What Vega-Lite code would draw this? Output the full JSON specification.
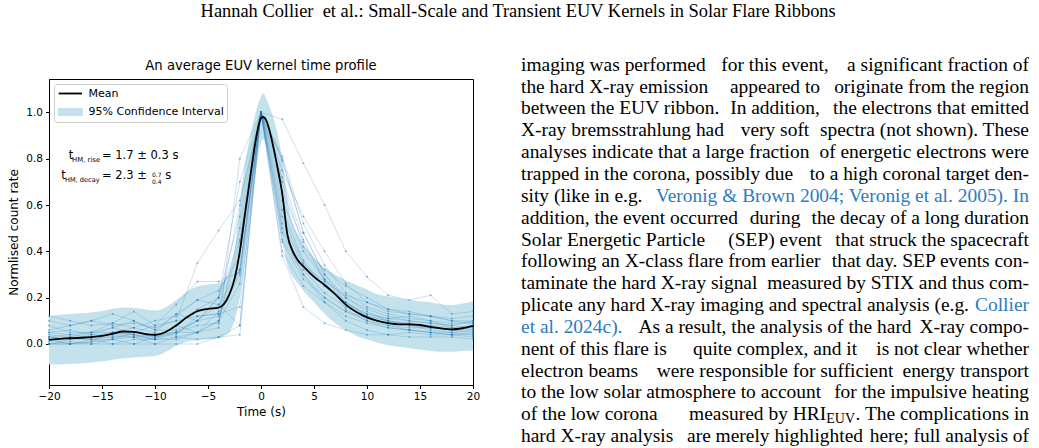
{
  "$schema": "https://vega.github.io/schema/vega-lite/v6.json",
  "background": "white",
  "padding": {"left": 7, "top": 2, "right": 5, "bottom": 0},
  "title": {
    "text": "Hannah Collier\u00a0 et al.: Small-Scale and Transient EUV Kernels in Solar Flare Ribbons",
    "font": "Liberation Serif",
    "fontSize": 18.4,
    "fontWeight": "normal",
    "color": "black",
    "anchor": "middle",
    "offset": 34
  },
  "config": {
    "view": {"stroke": null},
    "axis": {
      "domainColor": "black",
      "domainWidth": 1,
      "tickColor": "black",
      "tickSize": 3.5,
      "tickWidth": 1,
      "labelFont": "DejaVu Sans",
      "labelFontSize": 10.5,
      "labelColor": "black",
      "labelPadding": 3,
      "labelFlush": false,
      "titleFont": "DejaVu Sans",
      "titleFontSize": 12,
      "titleFontWeight": "normal",
      "titleColor": "black",
      "grid": false
    },
    "axisX": {"titlePadding": 4},
    "axisY": {"titlePadding": 5}
  },
  "datasets": {
    "profile": [
      {"t": -20, "mean": 0.018, "lo": -0.088, "hi": 0.122},
      {"t": -19, "mean": 0.022, "lo": -0.088, "hi": 0.126},
      {"t": -18, "mean": 0.025, "lo": -0.086, "hi": 0.130},
      {"t": -17, "mean": 0.027, "lo": -0.084, "hi": 0.133},
      {"t": -16, "mean": 0.030, "lo": -0.080, "hi": 0.136},
      {"t": -15, "mean": 0.035, "lo": -0.076, "hi": 0.142},
      {"t": -14, "mean": 0.045, "lo": -0.068, "hi": 0.152},
      {"t": -13, "mean": 0.054, "lo": -0.062, "hi": 0.158},
      {"t": -12, "mean": 0.052, "lo": -0.058, "hi": 0.157},
      {"t": -11, "mean": 0.044, "lo": -0.055, "hi": 0.150},
      {"t": -10, "mean": 0.040, "lo": -0.052, "hi": 0.145},
      {"t": -9, "mean": 0.052, "lo": -0.035, "hi": 0.158},
      {"t": -8, "mean": 0.080, "lo": -0.008, "hi": 0.190},
      {"t": -7, "mean": 0.115, "lo": 0.010, "hi": 0.225},
      {"t": -6, "mean": 0.142, "lo": 0.016, "hi": 0.248},
      {"t": -5, "mean": 0.152, "lo": 0.020, "hi": 0.257},
      {"t": -4, "mean": 0.157, "lo": 0.025, "hi": 0.262},
      {"t": -3.5, "mean": 0.172, "lo": 0.035, "hi": 0.275},
      {"t": -3, "mean": 0.212, "lo": 0.050, "hi": 0.310},
      {"t": -2.5, "mean": 0.280, "lo": 0.100, "hi": 0.400},
      {"t": -2, "mean": 0.400, "lo": 0.200, "hi": 0.600},
      {"t": -1.5, "mean": 0.565, "lo": 0.360, "hi": 0.780},
      {"t": -1, "mean": 0.725, "lo": 0.550, "hi": 0.900},
      {"t": -0.5, "mean": 0.880, "lo": 0.740, "hi": 1.000},
      {"t": 0, "mean": 0.975, "lo": 0.870, "hi": 1.070},
      {"t": 0.2, "mean": 0.980, "lo": 0.885, "hi": 1.083},
      {"t": 0.5, "mean": 0.965, "lo": 0.860, "hi": 1.060},
      {"t": 1, "mean": 0.885, "lo": 0.740, "hi": 1.000},
      {"t": 1.5, "mean": 0.775, "lo": 0.600, "hi": 0.920},
      {"t": 2, "mean": 0.650, "lo": 0.450, "hi": 0.800},
      {"t": 2.5, "mean": 0.470, "lo": 0.340, "hi": 0.620},
      {"t": 3, "mean": 0.400, "lo": 0.290, "hi": 0.520},
      {"t": 3.5, "mean": 0.360, "lo": 0.260, "hi": 0.470},
      {"t": 4, "mean": 0.335, "lo": 0.230, "hi": 0.430},
      {"t": 5, "mean": 0.290, "lo": 0.180, "hi": 0.370},
      {"t": 6, "mean": 0.255, "lo": 0.130, "hi": 0.330},
      {"t": 7, "mean": 0.215, "lo": 0.090, "hi": 0.300},
      {"t": 8, "mean": 0.170, "lo": 0.060, "hi": 0.275},
      {"t": 9, "mean": 0.138, "lo": 0.035, "hi": 0.255},
      {"t": 10, "mean": 0.115, "lo": 0.020, "hi": 0.235},
      {"t": 11, "mean": 0.100, "lo": 0.005, "hi": 0.215},
      {"t": 12, "mean": 0.090, "lo": -0.005, "hi": 0.205},
      {"t": 13, "mean": 0.085, "lo": -0.012, "hi": 0.198},
      {"t": 14, "mean": 0.085, "lo": -0.018, "hi": 0.190},
      {"t": 15, "mean": 0.082, "lo": -0.024, "hi": 0.185},
      {"t": 16, "mean": 0.074, "lo": -0.030, "hi": 0.180},
      {"t": 17, "mean": 0.067, "lo": -0.033, "hi": 0.172},
      {"t": 18, "mean": 0.063, "lo": -0.033, "hi": 0.168},
      {"t": 19, "mean": 0.068, "lo": -0.030, "hi": 0.175},
      {"t": 20, "mean": 0.078, "lo": -0.028, "hi": 0.185}
    ],
    "kernels": [
      {"kernel": "K01", "t": [-20,-18,-16,-14,-12,-10,-8,-6,-4,-2,0,2,4,6,8,10,12,14,16,18,20], "rate": [0.02,0.00,0.01,0.02,0.00,0.03,0.05,0.10,0.12,0.30,1.00,0.55,0.35,0.25,0.18,0.12,0.10,0.08,0.07,0.06,0.05]},
      {"kernel": "K02", "t": [-20,-18,-16,-14,-12,-10,-8,-6,-4,-2,0,2,4,6,8,10,12,14,16,18,20], "rate": [0.05,0.04,0.03,0.05,0.04,0.02,0.08,0.15,0.20,0.55,1.00,0.80,0.48,0.30,0.20,0.15,0.12,0.10,0.09,0.08,0.10]},
      {"kernel": "K03", "t": [-20,-18,-16,-14,-12,-10,-8,-6,-4,-2,0,2,4,6,8,10,12,14,16,18,20], "rate": [0.00,0.00,0.00,0.00,0.00,0.00,0.00,0.00,0.03,0.08,1.00,0.40,0.25,0.18,0.10,0.06,0.04,0.03,0.03,0.03,0.02]},
      {"kernel": "K04", "t": [-20,-18,-16,-14,-12,-10,-8,-6,-4,-2,0,2,4,6,8,10,12,14,16,18,20], "rate": [0.10,0.08,0.10,0.13,0.10,0.06,0.13,0.19,0.17,0.32,1.00,0.70,0.42,0.32,0.25,0.20,0.15,0.14,0.12,0.11,0.12]},
      {"kernel": "K05", "t": [-20,-18,-16,-14,-12,-10,-8,-6,-4,-2,0,2,4,6,8,10,12,14,16,18,20], "rate": [0.03,0.02,0.03,0.04,0.05,0.04,0.05,0.10,0.20,0.45,1.00,0.97,0.78,0.60,0.40,0.29,0.21,0.19,0.21,0.13,0.14]},
      {"kernel": "K06", "t": [-20,-18,-16,-14,-12,-10,-8,-6,-4,-2,0,2,4,6,8,10,12,14,16,18,20], "rate": [0.06,0.08,0.10,0.08,0.09,0.07,0.10,0.35,0.49,0.62,1.00,0.50,0.32,0.22,0.16,0.12,0.10,0.09,0.08,0.07,0.08]},
      {"kernel": "K07", "t": [-20,-18,-16,-14,-12,-10,-8,-6,-4,-2,0,2,4,6,8,10,12,14,16,18,20], "rate": [0.04,0.03,0.05,0.09,0.14,0.08,0.17,0.27,0.27,0.31,1.00,0.45,0.30,0.20,0.14,0.11,0.09,0.09,0.07,0.06,0.07]},
      {"kernel": "K08", "t": [-20,-18,-16,-14,-12,-10,-8,-6,-4,-2,0,2,4,6,8,10,12,14,16,18,20], "rate": [0.00,0.01,0.00,0.02,0.03,0.00,0.03,0.05,0.07,0.80,1.00,0.62,0.40,0.28,0.20,0.14,0.10,0.08,0.06,0.05,0.06]},
      {"kernel": "K09", "t": [-20,-18,-16,-14,-12,-10,-8,-6,-4,-2,0,2,4,6,8,10,12,14,16,18,20], "rate": [0.02,0.02,0.03,0.03,0.03,0.04,0.05,0.05,0.10,0.26,1.00,0.81,0.52,0.34,0.22,0.16,0.13,0.11,0.10,0.09,0.09]},
      {"kernel": "K10", "t": [-20,-18,-16,-14,-12,-10,-8,-6,-4,-2,0,2,4,6,8,10,12,14,16,18,20], "rate": [0.08,0.05,0.05,0.07,0.05,0.08,0.10,0.12,0.13,0.16,1.00,0.79,0.48,0.30,0.18,0.13,0.11,0.12,0.10,0.07,0.06]},
      {"kernel": "K11", "t": [-20,-18,-16,-14,-12,-10,-8,-6,-4,-2,0,2,4,6,8,10,12,14,16,18,20], "rate": [0.01,0.03,0.02,0.00,0.02,0.02,0.03,0.02,0.03,0.04,1.00,0.38,0.16,0.09,0.06,0.04,0.04,0.05,0.04,0.04,0.04]},
      {"kernel": "K12", "t": [-20,-18,-16,-14,-12,-10,-8,-6,-4,-2,0,2,4,6,8,10,12,14,16,18,20], "rate": [0.03,0.04,0.05,0.05,0.07,0.05,0.13,0.10,0.20,0.70,1.00,0.58,0.36,0.25,0.17,0.13,0.11,0.10,0.09,0.08,0.07]},
      {"kernel": "K13", "t": [-20,-18,-16,-14,-12,-10,-8,-6,-4,-2,0,2,4,6,8,10,12,14,16,18,20], "rate": [0.00,0.00,0.02,0.02,0.05,0.03,0.08,0.05,0.10,0.44,1.00,0.66,0.44,0.27,0.15,0.10,0.08,0.06,0.05,0.04,0.05]},
      {"kernel": "K14", "t": [-20,-18,-16,-14,-12,-10,-8,-6,-4,-2,0,2,4,6,8,10,12,14,16,18,20], "rate": [0.12,0.10,0.08,0.09,0.07,0.10,0.12,0.19,0.23,0.38,1.00,0.52,0.34,0.27,0.21,0.18,0.15,0.13,0.12,0.10,0.09]},
      {"kernel": "K15", "t": [-20,-18,-16,-14,-12,-10,-8,-6,-4,-2,0,2,4,6,8,10,12,14,16,18,20], "rate": [0.02,0.00,0.01,0.05,0.04,0.02,0.02,0.05,0.14,0.60,1.00,0.72,0.45,0.28,0.18,0.12,0.08,0.07,0.07,0.06,0.08]},
      {"kernel": "K16", "t": [-20,-18,-16,-14,-12,-10,-8,-6,-4,-2,0,2,4,6,8,10,12,14,16,18,20], "rate": [0.05,0.06,0.04,0.07,0.10,0.06,0.06,0.10,0.17,0.08,1.00,0.44,0.28,0.20,0.14,0.10,0.07,0.06,0.05,0.05,0.04]},
      {"kernel": "K17", "t": [-20,-18,-16,-14,-12,-10,-8,-6,-4,-2,0,2,4,6,8,10,12,14,16,18,20], "rate": [0.03,0.02,0.04,0.04,0.03,0.02,0.05,0.08,0.09,0.50,1.00,0.75,0.55,0.40,0.26,0.18,0.14,0.13,0.12,0.10,0.10]},
      {"kernel": "K18", "t": [-20,-18,-16,-14,-12,-10,-8,-6,-4,-2,0,2,4,6,8,10,12,14,16,18,20], "rate": [0.00,0.02,0.02,0.03,0.04,0.03,0.04,0.12,0.13,0.32,1.00,0.48,0.30,0.18,0.12,0.09,0.07,0.06,0.05,0.04,0.03]}
    ],
    "body": [
      {"line": 1, "side": "start", "kind": "text", "text": "imaging was performed"},
      {"line": 1, "side": "mid", "kind": "text", "text": "for this event,"},
      {"line": 1, "side": "end", "kind": "text", "text": "a significant fraction of"},
      {"line": 2, "side": "start", "kind": "text", "text": "the hard X-ray emission"},
      {"line": 2, "side": "mid", "kind": "text", "text": "appeared to"},
      {"line": 2, "side": "end", "kind": "text", "text": "originate from the region"},
      {"line": 3, "side": "start", "kind": "text", "text": "between the EUV ribbon."},
      {"line": 3, "side": "mid", "kind": "text", "text": "In addition,"},
      {"line": 3, "side": "end", "kind": "text", "text": "the electrons that emitted"},
      {"line": 4, "side": "start", "kind": "text", "text": "X-ray bremsstrahlung had"},
      {"line": 4, "side": "mid", "kind": "text", "text": "very soft"},
      {"line": 4, "side": "end", "kind": "text", "text": "spectra (not shown). These"},
      {"line": 5, "side": "start", "kind": "text", "text": "analyses indicate that a large fraction"},
      {"line": 5, "side": "end", "kind": "text", "text": "of energetic electrons were"},
      {"line": 6, "side": "start", "kind": "text", "text": "trapped in the corona, possibly due"},
      {"line": 6, "side": "end", "kind": "text", "text": "to a high coronal target den-"},
      {"line": 7, "side": "start", "kind": "text", "text": "sity (like in e.g."},
      {"line": 7, "side": "end", "kind": "cite", "text": "Veronig & Brown 2004; Veronig et al. 2005). In"},
      {"line": 8, "side": "start", "kind": "text", "text": "addition, the event occurred"},
      {"line": 8, "side": "mid", "kind": "text", "text": "during"},
      {"line": 8, "side": "end", "kind": "text", "text": "the decay of a long duration"},
      {"line": 9, "side": "start", "kind": "text", "text": "Solar Energetic Particle"},
      {"line": 9, "side": "mid", "kind": "text", "text": "(SEP) event"},
      {"line": 9, "side": "end", "kind": "text", "text": "that struck the spacecraft"},
      {"line": 10, "side": "start", "kind": "text", "text": "following an X-class flare from earlier"},
      {"line": 10, "side": "end", "kind": "text", "text": "that day. SEP events con-"},
      {"line": 11, "side": "start", "kind": "text", "text": "taminate the hard X-ray signal"},
      {"line": 11, "side": "end", "kind": "text", "text": "measured by STIX and thus com-"},
      {"line": 12, "side": "start", "kind": "text", "text": "plicate any hard X-ray imaging and spectral analysis (e.g."},
      {"line": 12, "side": "end", "kind": "cite", "text": "Collier"},
      {"line": 13, "side": "start", "kind": "cite", "text": "et al. 2024c)."},
      {"line": 13, "side": "mid", "kind": "text", "text": "As a result, the analysis of the hard"},
      {"line": 13, "side": "end", "kind": "text", "text": "X-ray compo-"},
      {"line": 14, "side": "start", "kind": "text", "text": "nent of this flare is"},
      {"line": 14, "side": "mid", "kind": "text", "text": "quite complex, and it"},
      {"line": 14, "side": "end", "kind": "text", "text": "is not clear whether"},
      {"line": 15, "side": "start", "kind": "text", "text": "electron beams"},
      {"line": 15, "side": "mid", "kind": "text", "text": "were responsible for sufficient"},
      {"line": 15, "side": "end", "kind": "text", "text": "energy transport"},
      {"line": 16, "side": "start", "kind": "text", "text": "to the low solar atmosphere to account"},
      {"line": 16, "side": "end", "kind": "text", "text": "for the impulsive heating"},
      {"line": 17, "side": "start", "kind": "text", "text": "of the low corona"},
      {"line": 17, "side": "pre", "kind": "text", "text": "measured by HRI"},
      {"line": 17, "side": "sub", "kind": "text", "text": "EUV"},
      {"line": 17, "side": "end", "kind": "text", "text": ". The complications in"},
      {"line": 18, "side": "start", "kind": "text", "text": "hard X-ray analysis"},
      {"line": 18, "side": "mid", "kind": "text", "text": "are merely highlighted"},
      {"line": 18, "side": "end", "kind": "text", "text": "here; full analysis of"}
    ]
  },
  "spacing": 40,
  "hconcat": [
    {
      "width": 424,
      "height": 306,
      "view": {"stroke": "black", "strokeWidth": 1},
      "title": {
        "text": "An average EUV kernel time profile",
        "font": "DejaVu Sans",
        "fontSize": 13.2,
        "fontWeight": "normal",
        "color": "black",
        "offset": 5.5
      },
      "layer": [
        {
          "data": {"name": "profile"},
          "mark": {"type": "area", "interpolate": "monotone"},
          "encoding": {
            "x": {
              "field": "t",
              "type": "quantitative",
              "scale": {"domain": [-20, 20], "nice": false},
              "axis": {
                "values": [-20, -15, -10, -5, 0, 5, 10, 15, 20],
                "title": "Time (s)",
                "labelExpr": "replace(datum.label, '-', '−')"
              }
            },
            "y": {
              "field": "lo",
              "type": "quantitative",
              "scale": {"domain": [-0.177, 1.144], "nice": false, "zero": false},
              "axis": {
                "values": [0, 0.2, 0.4, 0.6, 0.8, 1.0],
                "format": ".1f",
                "title": "Normlised count rate"
              }
            },
            "y2": {"field": "hi"},
            "color": {
              "datum": "95% Confidence Interval",
              "type": "nominal",
              "scale": {
                "domain": ["Mean", "95% Confidence Interval"],
                "range": ["black", "#c4e2ec"]
              },
              "legend": {
                "title": null,
                "orient": "top-left",
                "offset": 5,
                "padding": 3,
                "symbolSize": 121,
                "rowPadding": 5.5,
                "labelOffset": 18.5,
                "labelFont": "DejaVu Sans",
                "labelFontSize": 11,
                "labelColor": "black",
                "labelLimit": 300,
                "strokeColor": "#cccccc",
                "fillColor": "white",
                "cornerRadius": 3,
                "symbolOpacity": 1,
                "symbolStrokeWidth": 1.8,
                "symbolType": {"expr": "datum.value === 'Mean' ? 'M-0.87,0H3.36' : 'M-0.87,-0.55H3.36V0.55H-0.87Z'"},
                "symbolStrokeColor": {"expr": "datum.value === 'Mean' ? 'black' : '#c4e2ec'"},
                "symbolFillColor": {"expr": "datum.value === 'Mean' ? 'transparent' : '#c4e2ec'"}
              }
            }
          }
        },
        {
          "data": {"name": "kernels"},
          "transform": [{"flatten": ["t", "rate"]}],
          "mark": {"type": "line", "color": "#1f77b4", "opacity": 0.28, "strokeWidth": 0.8},
          "encoding": {
            "x": {"field": "t", "type": "quantitative"},
            "y": {"field": "rate", "type": "quantitative"},
            "detail": {"field": "kernel", "type": "nominal"}
          }
        },
        {
          "data": {"name": "kernels"},
          "transform": [{"flatten": ["t", "rate"]}],
          "mark": {"type": "point", "filled": true, "size": 4, "color": "#1f77b4", "opacity": 0.5},
          "encoding": {
            "x": {"field": "t", "type": "quantitative"},
            "y": {"field": "rate", "type": "quantitative"}
          }
        },
        {
          "data": {"name": "profile"},
          "mark": {"type": "line", "interpolate": "monotone", "strokeWidth": 1.8},
          "encoding": {
            "x": {"field": "t", "type": "quantitative"},
            "y": {"field": "mean", "type": "quantitative"},
            "color": {"datum": "Mean", "type": "nominal"}
          }
        },
        {
          "data": {"values": [{}]},
          "mark": {"type": "text", "text": "t", "align": "left", "baseline": "alphabetic", "font": "DejaVu Sans", "fontSize": 11.5, "color": "black"},
          "encoding": {"x": {"datum": -18.14}, "y": {"datum": 0.800}}
        },
        {
          "data": {"values": [{}]},
          "mark": {"type": "text", "text": "HM, rise", "align": "left", "baseline": "alphabetic", "font": "DejaVu Sans", "fontSize": 6.9, "color": "black"},
          "encoding": {"x": {"datum": -17.82}, "y": {"datum": 0.787}}
        },
        {
          "data": {"values": [{}]},
          "mark": {"type": "text", "text": "= 1.7 ± 0.3 s", "align": "left", "baseline": "alphabetic", "font": "DejaVu Sans", "fontSize": 11.5, "color": "black"},
          "encoding": {"x": {"datum": -15.0}, "y": {"datum": 0.800}}
        },
        {
          "data": {"values": [{}]},
          "mark": {"type": "text", "text": "t", "align": "left", "baseline": "alphabetic", "font": "DejaVu Sans", "fontSize": 11.5, "color": "black"},
          "encoding": {"x": {"datum": -18.84}, "y": {"datum": 0.714}}
        },
        {
          "data": {"values": [{}]},
          "mark": {"type": "text", "text": "HM, decay", "align": "left", "baseline": "alphabetic", "font": "DejaVu Sans", "fontSize": 6.6, "color": "black"},
          "encoding": {"x": {"datum": -18.49}, "y": {"datum": 0.700}}
        },
        {
          "data": {"values": [{}]},
          "mark": {"type": "text", "text": "= 2.3 ±", "align": "left", "baseline": "alphabetic", "font": "DejaVu Sans", "fontSize": 11.5, "color": "black"},
          "encoding": {"x": {"datum": -15.0}, "y": {"datum": 0.714}}
        },
        {
          "data": {"values": [{}]},
          "mark": {"type": "text", "text": "0.7", "align": "left", "baseline": "alphabetic", "font": "DejaVu Sans", "fontSize": 6, "color": "black"},
          "encoding": {"x": {"datum": -10.28}, "y": {"datum": 0.720}}
        },
        {
          "data": {"values": [{}]},
          "mark": {"type": "text", "text": "0.4", "align": "left", "baseline": "alphabetic", "font": "DejaVu Sans", "fontSize": 6, "color": "black"},
          "encoding": {"x": {"datum": -10.28}, "y": {"datum": 0.690}}
        },
        {
          "data": {"values": [{}]},
          "mark": {"type": "text", "text": "s", "align": "left", "baseline": "alphabetic", "font": "DejaVu Sans", "fontSize": 11.5, "color": "black"},
          "encoding": {"x": {"datum": -9.03}, "y": {"datum": 0.714}}
        }
      ]
    },
    {
      "width": 508,
      "height": 306,
      "data": {"name": "body"},
      "encoding": {
        "y": {
          "field": "line",
          "type": "quantitative",
          "scale": {"domain": [1.653, 15.658], "nice": false, "zero": false, "reverse": true},
          "axis": null
        },
        "text": {"field": "text"},
        "color": {
          "condition": {"test": "datum.kind === 'cite'", "value": "#2c7bbf"},
          "value": "black"
        }
      },
      "layer": [
        {
          "transform": [{"filter": "datum.side === 'start'"}],
          "mark": {"type": "text", "align": "left", "baseline": "middle", "font": "Liberation Serif", "fontSize": 19.45},
          "encoding": {
            "x": {"datum": 0, "type": "quantitative", "scale": {"domain": [0, 1], "nice": false}, "axis": null}
          }
        },
        {
          "transform": [{"filter": "datum.side === 'mid'"}],
          "mark": {"type": "text", "align": "center", "baseline": "middle", "font": "Liberation Serif", "fontSize": 19.45},
          "encoding": {
            "x": {"datum": 0.5, "type": "quantitative"}
          }
        },
        {
          "transform": [{"filter": "datum.side === 'end'"}],
          "mark": {"type": "text", "align": "right", "baseline": "middle", "font": "Liberation Serif", "fontSize": 19.45},
          "encoding": {
            "x": {"datum": 1, "type": "quantitative"}
          }
        },
        {
          "transform": [{"filter": "datum.side === 'pre'"}],
          "mark": {"type": "text", "align": "right", "baseline": "middle", "font": "Liberation Serif", "fontSize": 19.45, "dx": -202.8},
          "encoding": {
            "x": {"datum": 1, "type": "quantitative"}
          }
        },
        {
          "transform": [{"filter": "datum.side === 'sub'"}],
          "mark": {"type": "text", "align": "right", "baseline": "middle", "font": "Liberation Serif", "fontSize": 14, "dx": -174, "dy": 5},
          "encoding": {
            "x": {"datum": 1, "type": "quantitative"}
          }
        }
      ]
    }
  ]
}
